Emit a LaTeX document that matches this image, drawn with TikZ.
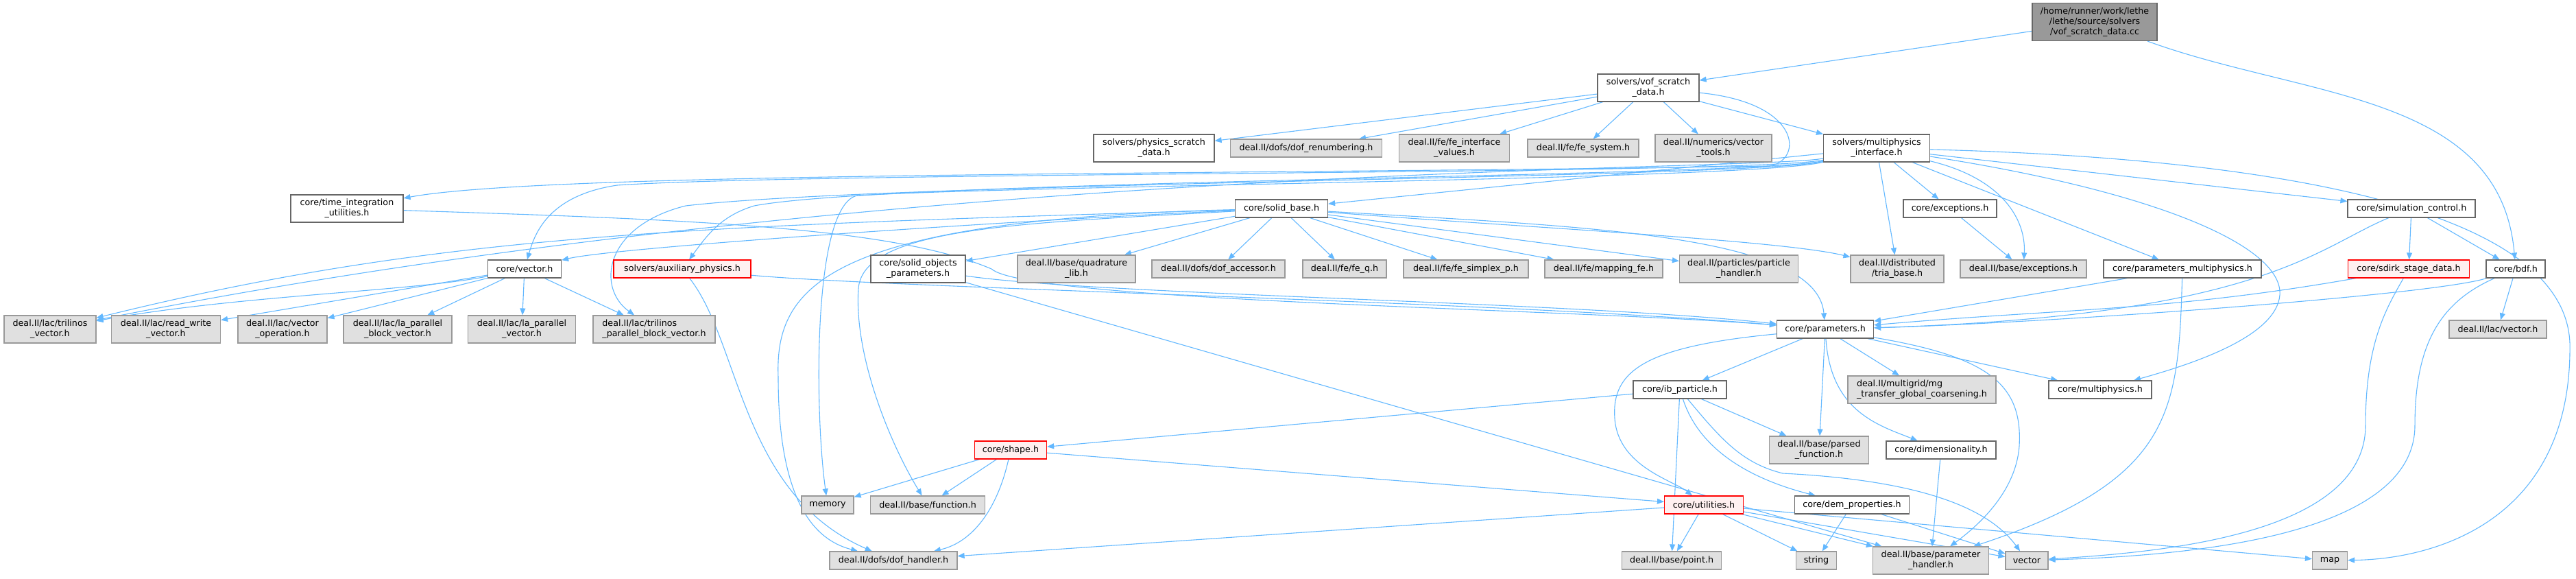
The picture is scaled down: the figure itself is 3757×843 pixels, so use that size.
\documentclass[tikz,border=0pt]{standalone}
\usepackage{fontspec}
\setmainfont{DejaVu Sans}
\usetikzlibrary{arrows.meta, backgrounds}
\definecolor{edgeblue}{RGB}{99,184,255}
\definecolor{extfill}{RGB}{224,224,224}
\definecolor{extdraw}{RGB}{153,153,153}
\definecolor{hdrdraw}{RGB}{102,102,102}
\definecolor{truncfill}{RGB}{255,240,240}
\definecolor{rootfill}{RGB}{153,153,153}

\begin{document}
\begin{tikzpicture}[
    x=1pt, y=1pt,
    font=\fontsize{12.7}{14.7}\selectfont,
    % Node styles
    hdr/.style={rectangle, draw=hdrdraw, line width=1.2pt, fill=white, align=center, inner sep=2pt, minimum height=26pt},
    extnode/.style={hdr, draw=extdraw, fill=extfill},
    trunc/.style={hdr, draw=red, fill=truncfill},
    rootnode/.style={hdr, draw=hdrdraw, fill=rootfill},
    twoline/.style={minimum height=40pt},
    % Edge style
    incl/.style={-{Triangle[length=10pt,width=8pt]}, draw=edgeblue, line width=1.1pt}
]
\useasboundingbox (0,0) rectangle (3757,-843);

% -----------------------------------------------------------
% Source file and first level
% -----------------------------------------------------------
\node[rootnode, minimum width=182pt, minimum height=55pt] (root) at (3055,-32) {/home/runner/work/lethe\\/lethe/source/solvers\\/vof\_scratch\_data.cc};
\node[hdr, twoline, minimum width=148pt] (vofh) at (2404,-128) {solvers/vof\_scratch\\\_data.h};

% -----------------------------------------------------------
% ROW 2 (y=216)
% -----------------------------------------------------------
\node[hdr, twoline, minimum width=176pt] (physscr) at (1683,-216) {solvers/physics\_scratch\\\_data.h};
\node[extnode, minimum width=221pt] (dofren) at (1905,-216) {deal.II/dofs/dof\_renumbering.h};
\node[extnode, twoline, minimum width=161pt] (feiface) at (2121,-216) {deal.II/fe/fe\_interface\\\_values.h};
\node[extnode, minimum width=162pt] (fesys) at (2309,-216) {deal.II/fe/fe\_system.h};
\node[extnode, twoline, minimum width=170pt] (vectools) at (2499,-216) {deal.II/numerics/vector\\\_tools.h};
\node[hdr, twoline, minimum width=155pt] (mpiface) at (2737,-216) {solvers/multiphysics\\\_interface.h};

% -----------------------------------------------------------
% ROW 3 (y=304)
% -----------------------------------------------------------
\node[hdr, twoline, minimum width=164pt] (timeint) at (506,-304) {core/time\_integration\\\_utilities.h};
\node[hdr, minimum width=135pt] (solidbase) at (1869,-304) {core/solid\_base.h};
\node[hdr, minimum width=136pt] (coreexc) at (2844,-304) {core/exceptions.h};
\node[hdr, minimum width=186pt] (simctrl) at (3517,-304) {core/simulation\_control.h};

% -----------------------------------------------------------
% ROW 4 (y=392)
% -----------------------------------------------------------
\node[hdr, minimum width=107pt] (corevec) at (765,-392) {core/vector.h};
\node[trunc, minimum width=200pt] (auxphys) at (995,-392) {solvers/auxiliary\_physics.h};
\node[hdr, twoline, minimum width=138pt] (solidobj) at (1339,-392) {core/solid\_objects\\\_parameters.h};
\node[extnode, twoline, minimum width=172pt] (quadlib) at (1570,-392) {deal.II/base/quadrature\\\_lib.h};
\node[extnode, minimum width=194pt] (dofacc) at (1777,-392) {deal.II/dofs/dof\_accessor.h};
\node[extnode, minimum width=122pt] (feq) at (1961,-392) {deal.II/fe/fe\_q.h};
\node[extnode, minimum width=182pt] (fesimplex) at (2138,-392) {deal.II/fe/fe\_simplex\_p.h};
\node[extnode, minimum width=172pt] (mappingfe) at (2339,-392) {deal.II/fe/mapping\_fe.h};
\node[extnode, twoline, minimum width=173pt] (parthandler) at (2536,-392) {deal.II/particles/particle\\\_handler.h};
\node[extnode, twoline, minimum width=136pt] (triabase) at (2767,-392) {deal.II/distributed\\/tria\_base.h};
\node[extnode, minimum width=184pt] (baseexc) at (2951,-392) {deal.II/base/exceptions.h};
\node[hdr, minimum width=230pt] (parammp) at (3183,-392) {core/parameters\_multiphysics.h};
\node[trunc, minimum width=177pt] (sdirk) at (3513,-392) {core/sdirk\_stage\_data.h};
\node[hdr, minimum width=86pt] (bdf) at (3669,-392) {core/bdf.h};

% -----------------------------------------------------------
% ROW 5 (y=480)
% -----------------------------------------------------------
\node[extnode, twoline, minimum width=134pt] (trilvec) at (73,-480) {deal.II/lac/trilinos\\\_vector.h};
\node[extnode, twoline, minimum width=159pt] (rwvec) at (242,-480) {deal.II/lac/read\_write\\\_vector.h};
\node[extnode, twoline, minimum width=130pt] (vecop) at (412,-480) {deal.II/lac/vector\\\_operation.h};
\node[extnode, twoline, minimum width=158pt] (lapblock) at (580,-480) {deal.II/lac/la\_parallel\\\_block\_vector.h};
\node[extnode, twoline, minimum width=157pt] (lapvec) at (761,-480) {deal.II/lac/la\_parallel\\\_vector.h};
\node[extnode, twoline, minimum width=178pt, align=left] (trilpblock) at (954,-480) {deal.II/lac/trilinos\\\_parallel\_block\_vector.h};
\node[hdr, minimum width=141pt] (params) at (2662,-480) {core/parameters.h};
\node[extnode, minimum width=142pt] (lacvec) at (3643,-480) {deal.II/lac/vector.h};

% -----------------------------------------------------------
% ROWS 6-9
% -----------------------------------------------------------
\node[hdr, minimum width=136pt] (ibpart) at (2450,-568) {core/ib\_particle.h};
\node[extnode, twoline, minimum width=216pt, align=left] (mgtransfer) at (2803,-568) {deal.II/multigrid/mg\\\_transfer\_global\_coarsening.h};
\node[hdr, minimum width=150pt] (multiphys) at (3063,-568) {core/multiphysics.h};

\node[trunc, minimum width=105pt] (shape) at (1474,-656) {core/shape.h};
\node[extnode, twoline, minimum width=145pt] (parsedfn) at (2653,-656) {deal.II/base/parsed\\\_function.h};
\node[hdr, minimum width=160pt] (dimens) at (2831,-656) {core/dimensionality.h};

\node[extnode, minimum width=76pt] (memory) at (1207,-736) {memory};
\node[extnode, minimum width=167pt] (function) at (1353,-736) {deal.II/base/function.h};
\node[trunc, minimum width=115pt] (utilities) at (2485,-736) {core/utilities.h};
\node[hdr, minimum width=167pt] (demprop) at (2701,-736) {core/dem\_properties.h};

\node[extnode, minimum width=186pt] (dofhandler) at (1303,-817) {deal.II/dofs/dof\_handler.h};
\node[extnode, minimum width=145pt] (point) at (2438,-817) {deal.II/base/point.h};
\node[extnode, minimum width=59pt] (string) at (2649,-817) {string};
\node[extnode, twoline, minimum width=169pt] (paramhandler) at (2816,-817) {deal.II/base/parameter\\\_handler.h};
\node[extnode, minimum width=62pt] (stdvector) at (2956,-817) {vector};
\node[extnode, minimum width=51pt] (stdmap) at (3398,-817) {map};

% -----------------------------------------------------------
% Connectors (kept under the boxes)
% -----------------------------------------------------------
\begin{scope}[on background layer]
% source file
\draw[incl] (root) -- (vofh);
\draw[incl] (root) to[out=-20,in=95] (bdf);

% vof_scratch_data.h
\draw[incl] (vofh) -- (physscr);
\draw[incl] (vofh) -- (dofren);
\draw[incl] (vofh) -- (feiface);
\draw[incl] (vofh) -- (fesys);
\draw[incl] (vofh) -- (vectools);
\draw[incl] (vofh) -- (mpiface);
\draw[incl] (vofh) .. controls (2630,-150) and (2630,-235) .. (2580,-242) .. controls (1800,-255) and (800,-250) .. (timeint);

% multiphysics_interface.h
\draw[incl] (mpiface) .. controls (2560,-255) and (1200,-250) .. (900,-270) .. controls (800,-285) and (780,-340) .. (corevec);
\draw[incl] (mpiface) .. controls (2560,-258) and (1300,-262) .. (1100,-300) .. controls (1050,-315) and (1030,-345) .. (auxphys);
\draw[incl] (mpiface) .. controls (2560,-250) and (1300,-235) .. (trilvec);
\draw[incl] (mpiface) .. controls (2560,-260) and (1300,-265) .. (1000,-300) .. controls (880,-330) and (870,-420) .. (trilpblock);
\draw[incl] (mpiface) .. controls (2560,-262) and (1500,-270) .. (1250,-285) .. controls (1185,-300) and (1188,-600) .. (memory);
\draw[incl] (mpiface) -- (solidbase);
\draw[incl] (mpiface) -- (triabase);
\draw[incl] (mpiface) -- (coreexc);
\draw[incl] (mpiface) .. controls (2920,-260) and (2955,-320) .. (baseexc);
\draw[incl] (mpiface) -- (parammp);
\draw[incl] (mpiface) -- (simctrl);
\draw[incl] (mpiface) .. controls (3150,-280) and (3330,-360) .. (3325,-430) .. controls (3320,-490) and (3200,-530) .. (multiphys);
\draw[incl] (mpiface) .. controls (3300,-230) and (3740,-300) .. (3748,-500) .. controls (3752,-760) and (3550,-815) .. (stdmap);

% solid_base.h
\draw[incl] (solidbase) -- (solidobj);
\draw[incl] (solidbase) -- (quadlib);
\draw[incl] (solidbase) -- (dofacc);
\draw[incl] (solidbase) -- (feq);
\draw[incl] (solidbase) -- (fesimplex);
\draw[incl] (solidbase) -- (mappingfe);
\draw[incl] (solidbase) -- (parthandler);
\draw[incl] (solidbase) .. controls (2200,-330) and (2600,-350) .. (triabase);
\draw[incl] (solidbase) .. controls (2300,-330) and (2650,-340) .. (params);
\draw[incl] (solidbase) .. controls (1500,-320) and (900,-360) .. (corevec);
\draw[incl] (solidbase) .. controls (1000,-330) and (640,-340) .. (trilvec);
\draw[incl] (solidbase) .. controls (1200,-320) and (1130,-420) .. (1135,-550) .. controls (1135,-750) and (1200,-790) .. (dofhandler);
\draw[incl] (solidbase) .. controls (1500,-325) and (1260,-330) .. (1252,-420) .. controls (1245,-520) and (1300,-650) .. (function);

% core/vector.h
\draw[incl] (corevec) .. controls (600,-425) and (350,-430) .. (trilvec);
\draw[incl] (corevec) -- (rwvec);
\draw[incl] (corevec) -- (vecop);
\draw[incl] (corevec) -- (lapblock);
\draw[incl] (corevec) -- (lapvec);
\draw[incl] (corevec) -- (trilpblock);

% auxiliary physics, time integration, solid objects
\draw[incl] (auxphys) .. controls (1080,-500) and (1080,-720) .. (dofhandler);
\draw[incl] (auxphys) .. controls (1300,-420) and (2200,-440) .. (params);
\draw[incl] (timeint) .. controls (1000,-320) and (1300,-330) .. (1446,-392) .. controls (1500,-440) and (2300,-450) .. (params);
\draw[incl] (solidobj) .. controls (1600,-430) and (2300,-440) .. (params);
\draw[incl] (solidobj) -- (paramhandler);

% exceptions, simulation control, time stepping
\draw[incl] (coreexc) -- (baseexc);
\draw[incl] (simctrl) .. controls (3380,-360) and (3300,-460) .. (params);
\draw[incl] (simctrl) -- (sdirk);
\draw[incl] (simctrl) -- (bdf);
\draw[incl] (sdirk) to[out=190,in=5] (params);
\draw[incl] (sdirk) .. controls (3480,-450) and (3450,-500) .. (3450,-620) .. controls (3450,-780) and (3150,-805) .. (stdvector);
\draw[incl] (bdf) .. controls (3550,-430) and (3000,-470) .. (params);
\draw[incl] (bdf) -- (lacvec);
\draw[incl] (bdf) .. controls (3560,-440) and (3522,-500) .. (3522,-620) .. controls (3522,-780) and (3200,-810) .. (stdvector);
\draw[incl] (parammp) -- (params);
\draw[incl] (parammp) .. controls (3177,-600) and (3170,-700) .. (paramhandler);

% core/parameters.h
\draw[incl] (params) -- (ibpart);
\draw[incl] (params) .. controls (2400,-505) and (2350,-540) .. (2355,-610) .. controls (2360,-680) and (2440,-700) .. (utilities);
\draw[incl] (params) -- (parsedfn);
\draw[incl] (params) .. controls (2670,-600) and (2740,-620) .. (dimens);
\draw[incl] (params) -- (mgtransfer);
\draw[incl] (params) -- (multiphys);
\draw[incl] (params) .. controls (2900,-520) and (2950,-560) .. (2945,-650) .. controls (2940,-720) and (2880,-770) .. (paramhandler);

% core/ib_particle.h
\draw[incl] (ibpart) -- (shape);
\draw[incl] (ibpart) -- (point);
\draw[incl] (ibpart) -- (parsedfn);
\draw[incl] (ibpart) .. controls (2480,-660) and (2560,-700) .. (demprop);
\draw[incl] (ibpart) .. controls (2510,-640) and (2540,-675) .. (2600,-690) .. controls (2800,-700) and (2900,-740) .. (stdvector);

% core/shape.h
\draw[incl] (shape) -- (memory);
\draw[incl] (shape) -- (function);
\draw[incl] (shape) .. controls (1455,-740) and (1420,-790) .. (dofhandler);
\draw[incl] (shape) -- (utilities);

% core/utilities.h
\draw[incl] (utilities) -- (dofhandler);
\draw[incl] (utilities) -- (point);
\draw[incl] (utilities) -- (string);
\draw[incl] (utilities) -- (paramhandler);
\draw[incl] (utilities) -- (stdvector);
\draw[incl] (utilities) -- (stdmap);

% leaves
\draw[incl] (demprop) -- (string);
\draw[incl] (demprop) -- (stdvector);
\draw[incl] (dimens) -- (paramhandler);
\end{scope}

\end{tikzpicture}
\end{document}
